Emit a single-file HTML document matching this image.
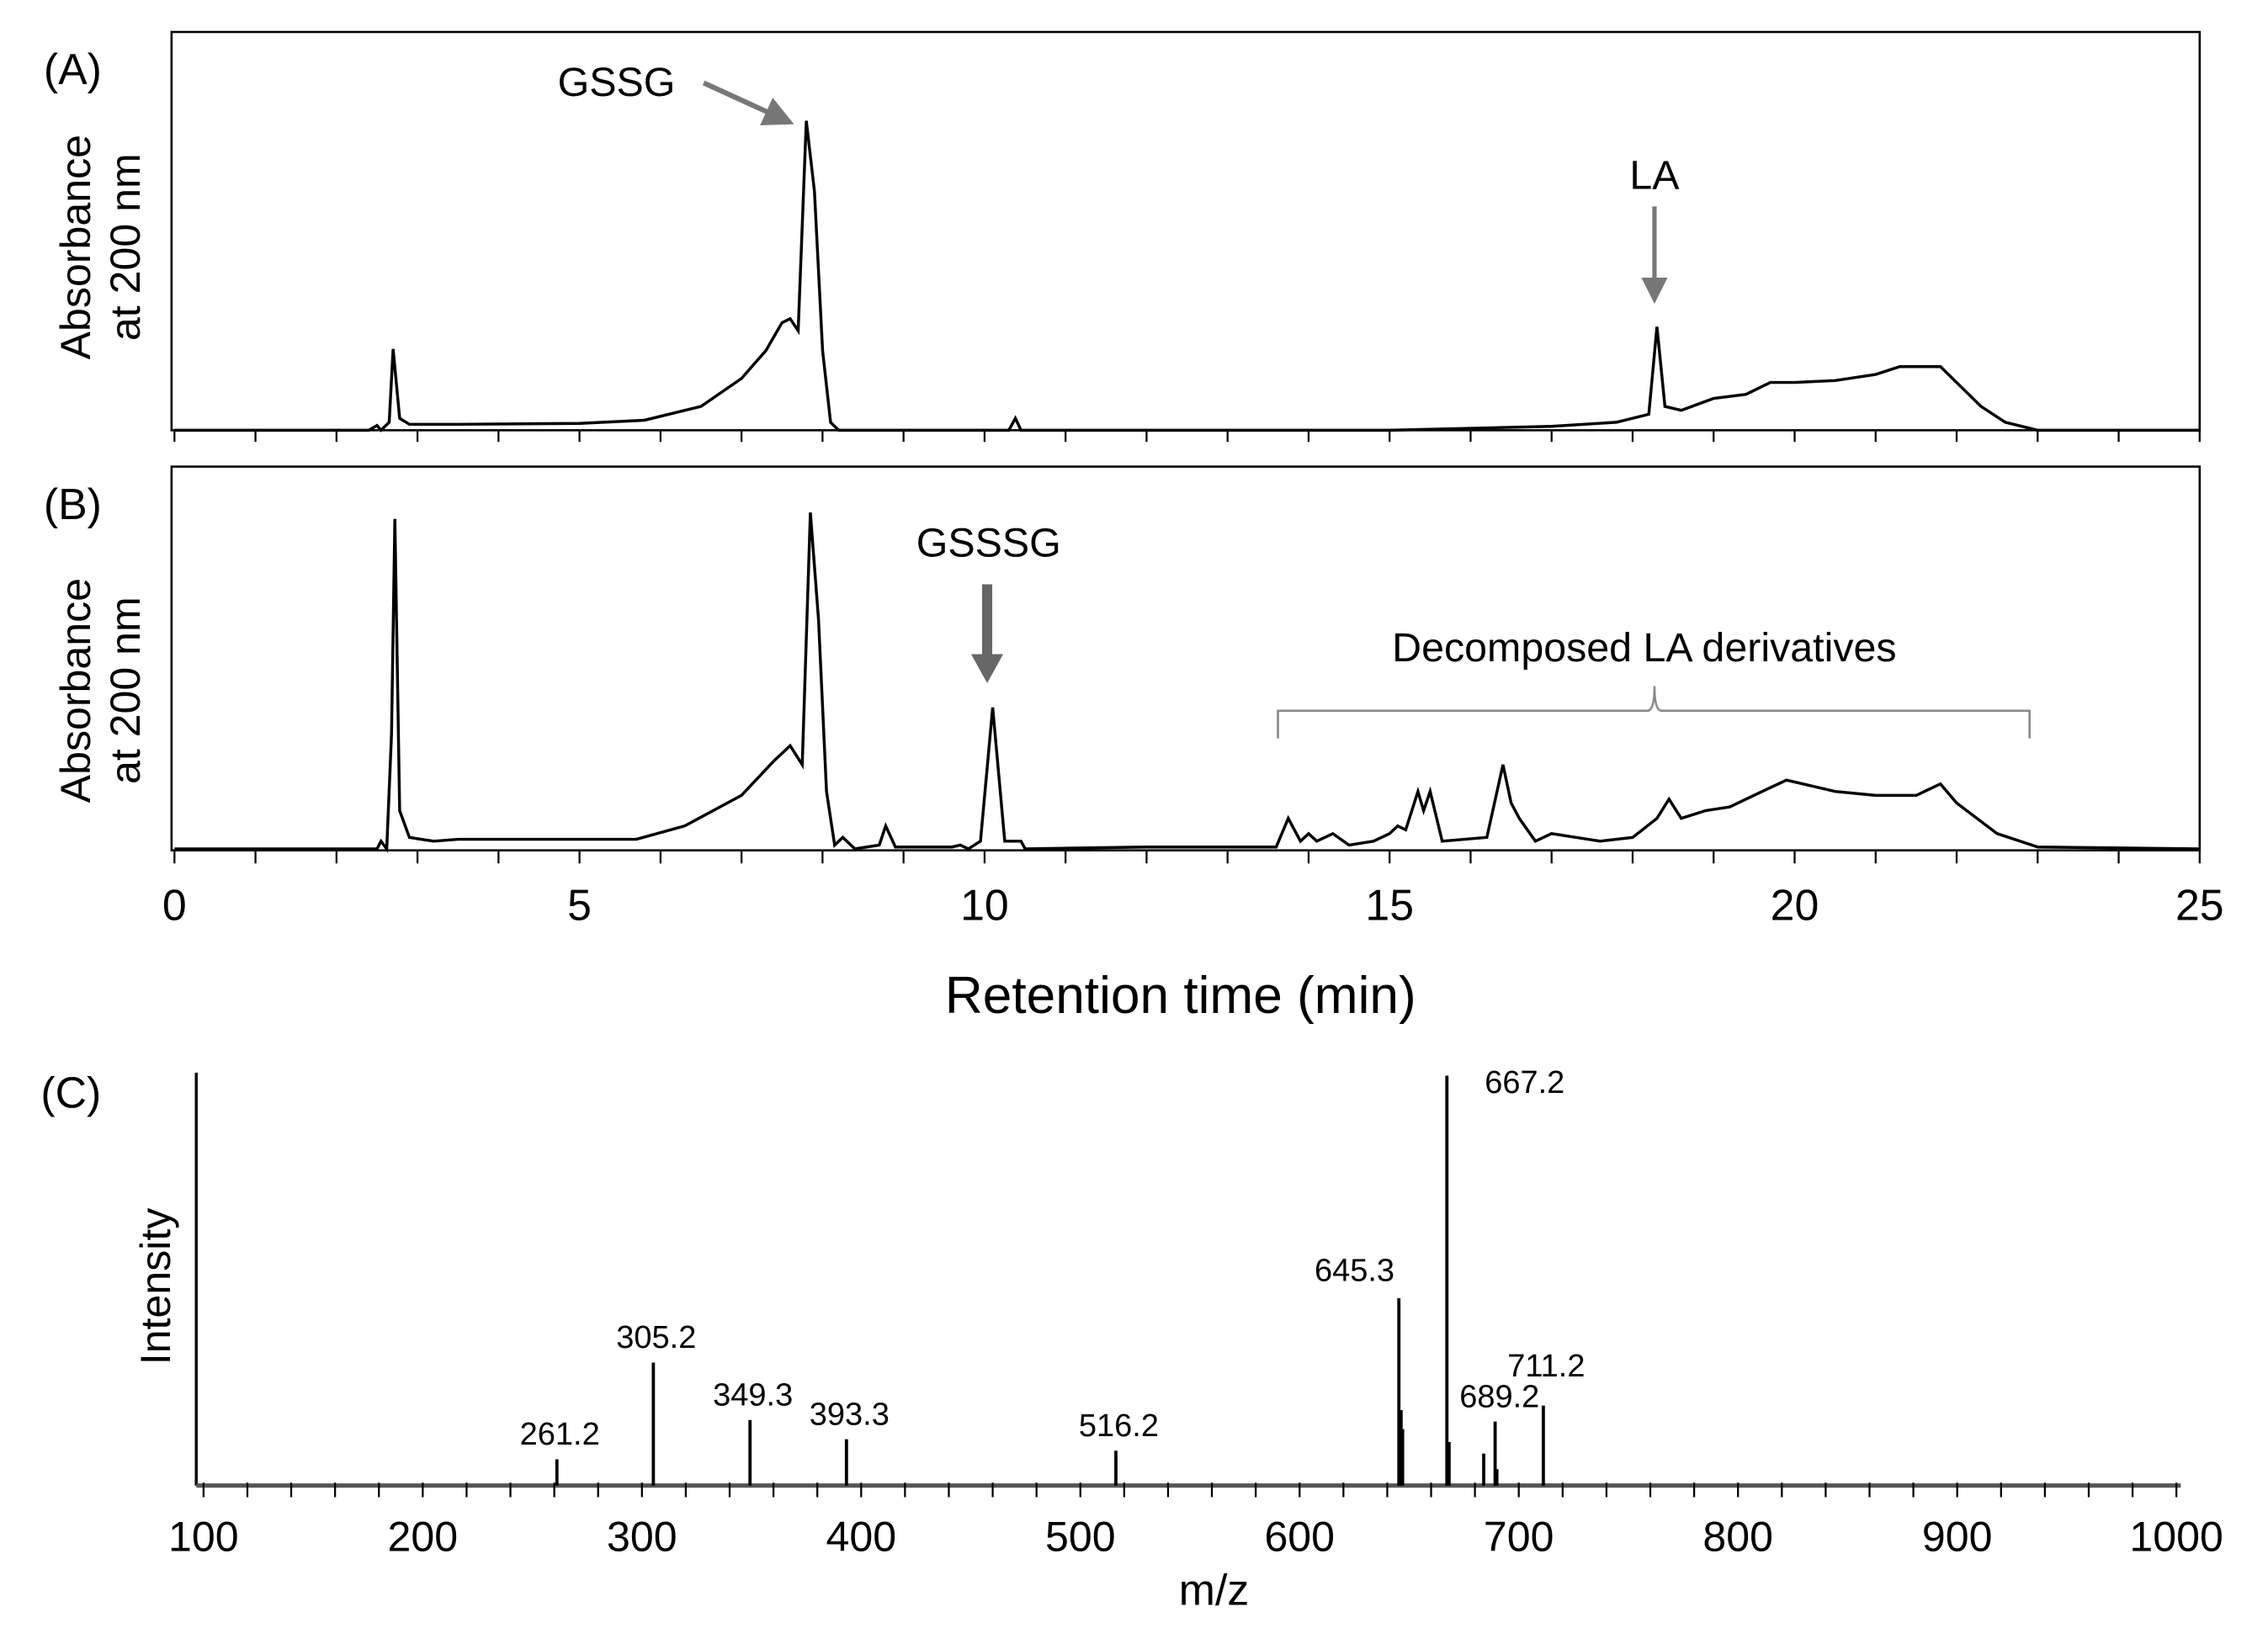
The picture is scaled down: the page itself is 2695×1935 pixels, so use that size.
<!DOCTYPE html>
<html><head><meta charset="utf-8"><style>
html,body{margin:0;padding:0;background:#fff;}
svg{display:block;font-family:"Liberation Sans",Arial,sans-serif;}
</style></head><body>
<svg id="fig" width="2695" height="1935" viewBox="0 0 1560 1120" preserveAspectRatio="none" xmlns="http://www.w3.org/2000/svg">
<defs>
<marker id="ah" markerWidth="6" markerHeight="6" refX="5" refY="3" orient="auto" markerUnits="strokeWidth"><path d="M0,0 L6,3 L0,6 z" fill="#777"/></marker>
</defs>
<rect width="1560" height="1120" fill="#fff"/>
<!-- Panel A frame -->
<g>
<rect x="118" y="22" width="1395" height="274" fill="none" stroke="#000" stroke-width="1.5"/>
<text x="30" y="58" font-size="30">(A)</text>
<text transform="translate(62,170) rotate(-90)" text-anchor="middle" font-size="29">Absorbance</text>
<text transform="translate(96,170) rotate(-90)" text-anchor="middle" font-size="29">at 200 nm</text>
<g id="ticksA"></g>
<path id="traceA" fill="none" stroke="#000" stroke-width="2"/>
<text x="424" y="66" text-anchor="middle" font-size="28">GSSG</text>
<line x1="484" y1="57" x2="543" y2="84" stroke="#777" stroke-width="3.5" marker-end="url(#ah)"/>
<text x="1138" y="130" text-anchor="middle" font-size="28">LA</text>
<line x1="1138" y1="142" x2="1138" y2="206" stroke="#777" stroke-width="3" marker-end="url(#ah)"/>
</g>
<!-- Panel B -->
<g>
<rect x="118" y="321" width="1395" height="264" fill="none" stroke="#000" stroke-width="1.5"/>
<text x="30" y="357" font-size="30">(B)</text>
<text transform="translate(62,475) rotate(-90)" text-anchor="middle" font-size="29">Absorbance</text>
<text transform="translate(96,475) rotate(-90)" text-anchor="middle" font-size="29">at 200 nm</text>
<g id="ticksB"></g>
<g id="tickLabelsB"></g>
<path id="traceB" fill="none" stroke="#000" stroke-width="2"/>
<text x="680" y="383" text-anchor="middle" font-size="28">GSSSG</text>
<line x1="679" y1="402" x2="679" y2="454" stroke="#666" stroke-width="7"/>
<polygon points="668,450 690,450 679,470" fill="#666"/>
<text x="1131" y="455" text-anchor="middle" font-size="28">Decomposed LA derivatives</text>
<path d="M879,508 L879,489 L1133,489 Q1138,489 1138,472 Q1138,489 1143,489 L1396,489 L1396,508" fill="none" stroke="#888" stroke-width="1.5"/>
<text x="812" y="697" text-anchor="middle" font-size="36">Retention time (min)</text>
</g>
<!-- Panel C -->
<g>
<text x="28" y="762" font-size="30">(C)</text>
<text transform="translate(117,885) rotate(-90)" text-anchor="middle" font-size="29">Intensity</text>
<line x1="135" y1="738" x2="135" y2="1022" stroke="#000" stroke-width="2"/>
<line x1="135" y1="1022" x2="1500" y2="1022" stroke="#555" stroke-width="3"/>
<g id="ticksC"></g>
<g id="barsC"></g>
<text x="835" y="1104" text-anchor="middle" font-size="30">m/z</text>
</g>
<script>
// Chromatogram A: [time, relative absorbance]
const timesA = [0,2.4,2.5,2.55,2.65,2.7,2.78,2.9,3.5,5,5.8,6.5,7.0,7.3,7.5,7.6,7.7,7.8,7.9,8.0,8.1,8.2,10.3,10.38,10.45,15,17,17.8,18.2,18.3,18.4,18.6,19,19.4,19.7,20,20.5,21,21.3,21.8,22,22.3,22.6,23,25];
const valuesA = [0,0,0.012,0,0.02,0.204,0.03,0.015,0.015,0.017,0.025,0.06,0.13,0.2,0.27,0.28,0.25,0.777,0.6,0.2,0.02,0,0,0.03,0,0,0.01,0.02,0.04,0.26,0.06,0.05,0.08,0.09,0.12,0.12,0.125,0.14,0.16,0.16,0.12,0.06,0.02,0,0];
const timesB = [0,2.5,2.55,2.62,2.68,2.72,2.78,2.9,3.2,3.5,5.7,6.3,7.0,7.4,7.6,7.75,7.85,7.95,8.05,8.15,8.25,8.4,8.7,8.78,8.9,9.6,9.7,9.8,9.95,10.1,10.25,10.45,10.5,12,13.6,13.75,13.9,14.0,14.1,14.3,14.5,14.8,15.0,15.1,15.2,15.35,15.42,15.5,15.65,16.2,16.4,16.5,16.6,16.8,17.0,17.3,17.6,18.0,18.3,18.45,18.6,18.9,19.2,19.6,19.9,20.1,20.5,21,21.5,21.8,22,22.5,23,25];
const valuesB = [0,0,0.02,0,0.3,0.863,0.1,0.03,0.02,0.025,0.025,0.06,0.14,0.23,0.27,0.22,0.88,0.6,0.15,0.01,0.03,0,0.01,0.06,0.005,0.005,0.01,0,0.02,0.37,0.02,0.02,0,0.005,0.005,0.08,0.02,0.04,0.02,0.04,0.01,0.02,0.04,0.06,0.05,0.15,0.1,0.15,0.02,0.03,0.22,0.12,0.08,0.02,0.04,0.03,0.02,0.03,0.08,0.13,0.08,0.1,0.11,0.15,0.18,0.17,0.15,0.14,0.14,0.17,0.12,0.04,0.005,0];
const timeTicks = [0,5,10,15,20,25];
// Mass spectrum
const mzValues = [261.2,305.2,349.3,393.3,516.2,645.3,646.3,647,667.2,668.2,684,689.2,690,711.2];
const mzIntensity = [6.4,30,16,11.3,8.5,45.7,18.4,13.8,100,10.6,7.8,15.6,4,19.5];
const mzLabels = ["261.2","305.2","349.3","393.3","516.2","645.3","","","667.2","","","689.2","","711.2"];
const mzTicks = [100,200,300,400,500,600,700,800,900,1000];

const NS="http://www.w3.org/2000/svg";
const xT = t => 120 + t*(1513-120)/25;
const yA = v => 296 - v*274;
const yB = v => 584 - v*263;
const xM = m => 140 + (m-100)*(1497-140)/900;
const yM = v => 1022 - v*2.82;
function mk(tag, attrs, parent){const e=document.createElementNS(NS,tag);for(const k in attrs)e.setAttribute(k,attrs[k]);parent.appendChild(e);return e;}
document.getElementById('traceA').setAttribute('d', timesA.map((t,i)=>(i?'L':'M')+xT(t).toFixed(1)+','+yA(valuesA[i]).toFixed(1)).join(' '));
document.getElementById('traceB').setAttribute('d', timesB.map((t,i)=>(i?'L':'M')+xT(t).toFixed(1)+','+yB(valuesB[i]).toFixed(1)).join(' '));
const tA=document.getElementById('ticksA'), tB=document.getElementById('ticksB'), tL=document.getElementById('tickLabelsB');
for(let t=0;t<=25;t++){
  const a=mk('line',{x1:xT(t),x2:xT(t),y1:296,y2:304,stroke:'#000','stroke-width':1.3},tA);
  
  
  const b=mk('line',{x1:xT(t),x2:xT(t),y1:585,y2:594,stroke:'#000','stroke-width':1.3},tB);
  
  
}
timeTicks.forEach(t=>{
  const e=mk('text',{x:xT(t),y:633,'text-anchor':'middle','font-size':30},tL);
  e.textContent=t;
  
  
});
const tC=document.getElementById('ticksC');
for(let m=100;m<=1000;m+=20){
  const e=mk('line',{x1:xM(m),x2:xM(m),y1:1020,y2:1030,stroke:'#000','stroke-width':1.3},tC);
  
  
}
mzTicks.forEach(m=>{
  const e=mk('text',{x:xM(m),y:1067,'text-anchor':'middle','font-size':29},tC);
  e.textContent=m;
  
  
});
const bC=document.getElementById('barsC');
mzValues.forEach((m,i)=>{
  const e=mk('line',{x1:xM(m),x2:xM(m),y1:1022,y2:yM(mzIntensity[i]),stroke:'#000','stroke-width':2.2},bC);
  
  
  if(mzLabels[i]){
    let lx=xM(m)+2, ly=yM(mzIntensity[i])-10, anchor='middle';
    if(mzLabels[i]==='667.2'){lx=xM(m)+26;ly=yM(mzIntensity[i])+12;anchor='start';}
    if(mzLabels[i]==='645.3'){lx=xM(m)-3;ly=yM(mzIntensity[i])-12;anchor='end';}
    if(mzLabels[i]==='711.2'){ly=yM(mzIntensity[i])-20;}
    if(mzLabels[i]==='689.2'){lx=xM(m)+3;}
    const t=mk('text',{x:lx,y:ly,'text-anchor':anchor,'font-size':22},bC);
    t.textContent=mzLabels[i];
    
    
  }
});
</script>
</svg>
</body></html>
